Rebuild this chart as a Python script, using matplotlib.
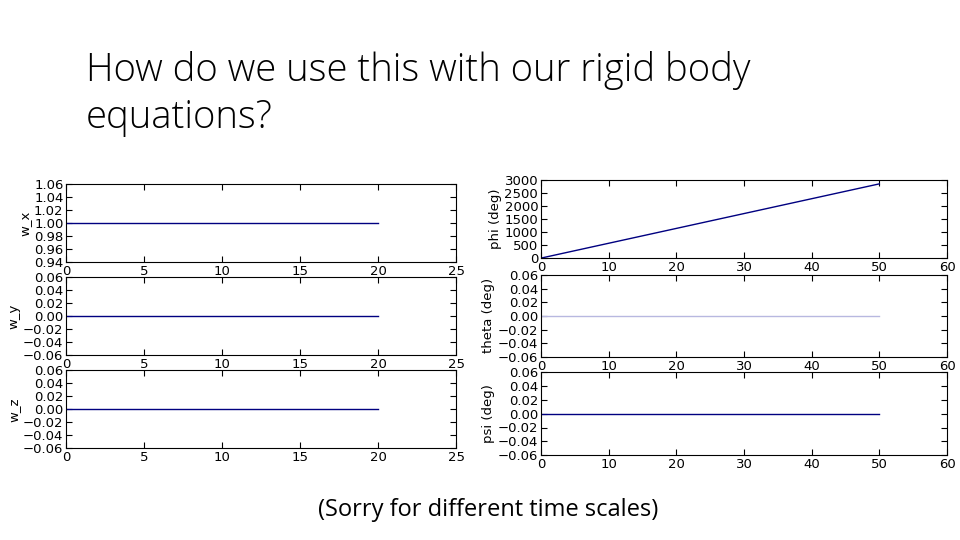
import matplotlib
matplotlib.use("Agg")
import matplotlib.pyplot as plt

t_body = [0, 20]
w_x = [1.0, 1.0]
w_y = [0.0, 0.0]
w_z = [0.0, 0.0]
t_euler = [0, 50]
phi = [0, 2865]
theta = [0.0, 0.0]
psi = [0.0, 0.0]

fig = plt.figure(figsize=(9.6, 5.4), dpi=100)
fig.patch.set_facecolor("white")
fig.text(86/960, 1-70/540, "How do we use this with our rigid body", fontsize=27.5, family="Open Sans", fontweight="light", va="center")
fig.text(86/960, 1-118/540, "equations?", fontsize=27.5, family="Open Sans", fontweight="light", va="center")
fig.text(488/960, 1-510/540, "(Sorry for different time scales)", fontsize=17, family="Open Sans", ha="center", va="center")

small = [-0.06, -0.04, -0.02, 0.0, 0.02, 0.04, 0.06]
left = [
    ([0.069, 0.515, 0.406, 0.144], w_x, "w_x", (0.94, 1.06), [0.94, 0.96, 0.98, 1.0, 1.02, 1.04, 1.06], "navy"),
    ([0.069, 0.343, 0.406, 0.144], w_y, "w_y", (-0.06, 0.06), small, "navy"),
    ([0.069, 0.170, 0.406, 0.144], w_z, "w_z", (-0.06, 0.06), small, "navy"),
]
right = [
    ([0.5635, 0.522, 0.423, 0.144], phi, "phi (deg)", (0, 3000), list(range(0, 3001, 500)), "navy"),
    ([0.5635, 0.339, 0.423, 0.152], theta, "theta (deg)", (-0.06, 0.06), small, "#b8b8e0"),
    ([0.5635, 0.157, 0.423, 0.154], psi, "psi (deg)", (-0.06, 0.06), small, "navy"),
]

def fmt(v):
    return f"{v:.2f}".replace("-", "\u2212")

for specs, t, xl, xt in [(left, t_body, (0, 25), range(0, 26, 5)), (right, t_euler, (0, 60), range(0, 61, 10))]:
    for rect, y, lab, yl, yt, col in specs:
        ax = fig.add_axes(rect)
        ax.plot(t, y, color=col, lw=1.0)
        ax.set_xlim(*xl); ax.set_ylim(*yl)
        ax.set_xticks(list(xt)); ax.set_yticks(yt)
        if yl[1] < 1000:
            ax.set_yticklabels([fmt(v) for v in yt])
        ax.set_ylabel(lab, fontsize=9.5, labelpad=2)
        ax.tick_params(direction="in", top=True, right=True, labelsize=9.5, pad=2, length=4)
        for s in ax.spines.values():
            s.set_linewidth(0.8)

fig.savefig("out.png", dpi=100, facecolor="white")
